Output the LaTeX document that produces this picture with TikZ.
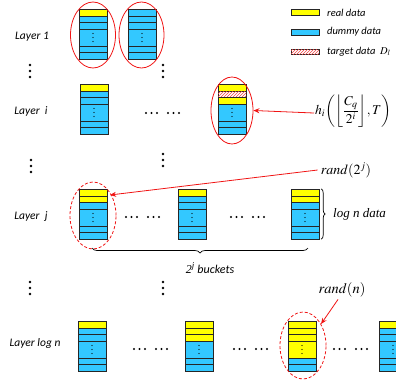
\documentclass[tikz,border=0pt]{standalone}
\usepackage{mathptmx}
\usepackage[no-math]{fontspec}
\setmainfont{Carlito}
\newfontfamily\tms{Liberation Serif}
\usetikzlibrary{shapes.geometric,patterns,decorations.pathreplacing,arrows.meta}
\definecolor{yellowc}{RGB}{255,255,0}
\definecolor{bluec}{RGB}{51,200,255}
\definecolor{redc}{RGB}{240,20,20}
\tikzset{
  cell/.style={draw=black!85, line width=0.8pt},
  ye/.style={fill=yellowc},
  bl/.style={fill=bluec},
  ht/.style={fill=white, postaction={pattern=north east lines, pattern color=redc!80}},
  ell/.style={ellipse, draw=redc, line width=0.8pt, inner sep=0pt},
  dsh/.style={dash pattern=on 3pt off 2pt},
  arr/.style={draw=redc, line width=0.8pt, -{Stealth[length=6pt,width=5pt]}},
  lay/.style={font=\fontsize{11.5}{13}\selectfont\itshape, inner sep=0pt},
  leg/.style={font=\fontsize{10.5}{12}\selectfont\itshape, anchor=west, inner sep=0pt},
  swatch/.style={draw=black!85, line width=0.8pt},
  dotc/.style={fill=black}
}
\newcommand\bkt[7]{%
  \begin{scope}[shift={(#2,#3)}]
    \draw[cell,#4] (0,0) rectangle (28,7);
    \draw[cell,#5] (0,7) rectangle (28,13.5);
    \draw[cell,#6] (0,13.5) rectangle (28,20);
    \draw[cell,#7] (0,20) rectangle (28,37);
    \draw[cell,bl] (0,37) rectangle (28,43.5);
    \draw[cell,bl] (0,43.5) rectangle (28,50);
    \fill (14,24.5) circle (0.6) (14,28.5) circle (0.6) (14,32.5) circle (0.6);
    \node[inner sep=0pt, minimum width=28pt, minimum height=50pt] (#1) at (14,25) {};
  \end{scope}}
\newcommand\hdts[2]{%
  \foreach \dx in {0,5.5,11,22,27.5,33} {\fill (#1+\dx,#2) circle (1.2);}}
\newcommand\vdts[2]{%
  \foreach \dy in {0,6,12} {\fill (#1,#2+\dy) circle (1.3);}}
\begin{document}
\begin{tikzpicture}[x=1pt,y=-1pt]
\useasboundingbox (0,0) rectangle (396,381);
% legend
\draw[swatch,ye] (291,9.5) rectangle (319,15.5);
\draw[swatch,bl] (291,29.5) rectangle (319,35);
\draw[swatch,ht] (291,49) rectangle (319,54.5);
\node[leg] (lg1) at (327,12.5) {real data};
\node[leg] (lg2) at (327,32) {dummy data};
\node[leg] (lg3) at (327,51.5) {target data \ {\tms$D_l$}};
% layer labels
\node[lay] (l1) at (32,37) {Layer 1};
\node[lay] (li) at (31,111) {Layer \ i};
\node[lay] (lj) at (31,217) {Layer \ j};
\node[lay] (ln) at (35,343) {Layer log n};
% layer 1
\bkt{b11}{79}{9}{ye}{bl}{bl}{bl}
\bkt{b12}{128}{9}{bl}{bl}{bl}{bl}
\node[ell, minimum width=45pt, minimum height=66pt] (e11) at (93,35) {};
\node[ell, minimum width=45pt, minimum height=66pt] (e12) at (141.5,35) {};
% layer i
\bkt{bi1}{80}{84}{ye}{bl}{bl}{bl}
\bkt{bi2}{218}{84}{ye}{ht}{ye}{bl}
\node[ell, minimum width=42pt, minimum height=67pt] (ei) at (232,110.5) {};
\hdts{146}{113}
\node[anchor=west, inner sep=0pt, font=\fontsize{13.5}{15}\selectfont] (hl) at (315,111)
  {$h_i\!\left(\left\lfloor\displaystyle\frac{C_q}{2^i}\right\rfloor\!,T\right)$};
\draw[arr] ([xshift=-1pt,yshift=-2pt]hl.west) -- (ei.east);
% layer j
\bkt{bj1}{79}{189}{ye}{ye}{bl}{bl}
\bkt{bj2}{178}{189}{ye}{bl}{bl}{bl}
\bkt{bj3}{291}{189}{ye}{ye}{bl}{bl}
\node[ell, dsh, minimum width=46pt, minimum height=67pt] (ej) at (93,215.5) {};
\hdts{126}{217}
\hdts{231}{217}
\node[inner sep=3pt, font=\fontsize{14}{16}\selectfont] (r2) at (346,170) {$rand(2^j)$};
\coordinate (tj) at (110,195);
\draw[arr] (r2.west) -- (tj);
\coordinate (rb1) at ([xshift=2pt]bj3.north east);
\coordinate (rb2) at ([xshift=2pt]bj3.south east);
\draw[line width=0.7pt, decorate, decoration={brace, amplitude=4pt}] (rb1) -- (rb2);
\node[anchor=west, inner sep=0pt, font=\fontsize{13}{15}\selectfont\tms\itshape] (lnd) at (333,214) {log n data};
\coordinate (bb1) at (308,248);
\coordinate (bb2) at (92,248);
\draw[line width=0.7pt, decorate, decoration={brace, amplitude=5pt}] (bb1) -- (bb2);
\node[inner sep=0pt, font=\fontsize{12}{14}\selectfont\itshape] (bk) at (210,268) {{\tms 2\textsuperscript{\itshape j}} buckets};
% vertical dots
\vdts{30}{65} \vdts{163}{65}
\vdts{31}{160} \vdts{163}{154}
\vdts{30}{282} \vdts{163}{282}
% layer log n
\bkt{bn1}{78}{321}{ye}{bl}{bl}{bl}
\bkt{bn2}{185}{321}{ye}{ye}{ye}{bl}
\bkt{bn3}{288}{321}{ye}{ye}{ye}{ye}
\bkt{bn4}{379}{321}{ye}{bl}{bl}{bl}
\node[ell, dsh, minimum width=46pt, minimum height=67pt] (en) at (303,345.5) {};
\hdts{134}{349}
\hdts{234}{349}
\hdts{334}{349}
\node[inner sep=0pt, font=\fontsize{14.5}{16}\selectfont] (rn) at (342,290) {$rand(n)$};
\draw[arr] ([xshift=-4pt,yshift=-2pt]rn.south) -- (en.50);
\end{tikzpicture}
\end{document}
